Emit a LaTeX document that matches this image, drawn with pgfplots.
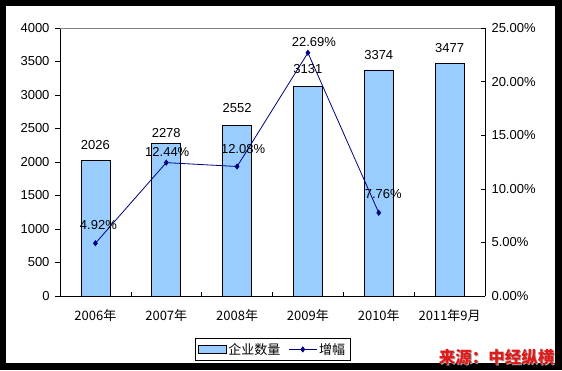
\documentclass[border=0pt]{standalone}
\usepackage{pgfplots}
\pgfplotsset{compat=1.18}
\usepackage{pgfplotstable}
\usepackage{fontspec}
\setmainfont{Liberation Sans}
\newfontfamily\cjk{Noto Sans CJK SC}
\definecolor{barblue}{HTML}{99CCFF}
\definecolor{navy}{HTML}{000080}
\definecolor{srcred}{RGB}{225,25,25}
\newcommand{\fs}{\fontsize{13bp}{15bp}\selectfont}
\pgfplotsset{
 /pgf/number format/1000 sep={},
 linelegend/.style={legend image code/.code={\draw[##1, mark repeat=2, mark phase=2] plot coordinates {(0bp,0bp) (14bp,0bp) (28bp,0bp)};}},
 barlegend/.style={legend image code/.code={\draw[fill=barblue,draw=black,line width=0.6bp] (0bp,-4bp) rectangle (28bp,4bp);}}
}
\pgfplotstableread{
x y dy
0 2026 15
1 2278 10
2 2552 17
3 3131 17
4 3374 15
5 3477 15
}\bars
\pgfplotstableread{
x y dx dy
0 4.92 3 18
1 12.44 1 11
2 12.08 6 17
3 22.69 6 11
4 7.76 4.5 19
}\rate
\begin{document}
\begin{tikzpicture}[x=1bp,y=1bp]
\fill[black] (0,0) rectangle (562,370);
\fill[white] (6,7) rectangle (555,364);
\begin{axis}[
  at={(60bp,74bp)}, anchor=south west,
  scale only axis, width=425bp, height=268bp,
  xmin=-0.5, xmax=5.5, ymin=0, ymax=4000,
  axis x line*=bottom, axis y line*=left,
  xtick={0,...,5},
  xticklabels={2006年,2007年,2008年,2009年,2010年,2011年9月},
  x tick label style={font=\cjk\fs, yshift=-5bp},
  major x tick style={draw=none},
  ytick={0,500,...,4000},
  tick align=outside, major tick length=5bp,
  y tick label style={font=\fs, xshift=-2bp},
  /pgf/number format/assume math mode=true,
  scaled y ticks=false,
  axis line style={black, line width=0.6bp},
  tick style={black, line width=0.6bp},
  clip=false,
  legend style={at={(axis description cs:0.5,-0.158)}, anchor=north,
    draw=black, line width=0.6bp, font=\cjk\fs, legend columns=2,
    inner xsep=3bp, inner ysep=2.5bp,
    /tikz/every even column/.append style={column sep=6bp}},
]
\addplot[ybar, bar width=29bp, fill=barblue, draw=black, line width=0.6bp,
  nodes near coords, point meta=explicit,
  visualization depends on={\thisrow{dy}\as\ddy},
  every node near coord/.append style={font=\fs, anchor=center, yshift=\ddy bp, text=black},
  barlegend]
  table[x=x, y=y, meta=y] {\bars};
\addlegendentry{企业数量}
\addlegendimage{navy, line width=0.8bp, mark=diamond*, mark size=2.5bp, linelegend}
\addlegendentry{增幅}
\draw[gray, line width=0.6bp] (rel axis cs:0,1) -- (rel axis cs:1,1);
\end{axis}
\begin{axis}[
  at={(60bp,74bp)}, anchor=south west,
  scale only axis, width=425bp, height=268bp,
  xmin=-0.5, xmax=5.5, ymin=0, ymax=25,
  axis x line*=bottom, axis y line*=right,
  xtick={-0.5,0.5,...,5.5}, xticklabels={},
  ytick={0,5,...,25},
  yticklabel={\pgfmathprintnumber[fixed,fixed zerofill,precision=2]{\tick}\%},
  tick align=inside, major tick length=4bp,
  y tick label style={font=\fs, xshift=3bp},
  /pgf/number format/assume math mode=true,
  axis line style={black, line width=0.6bp},
  tick style={black, line width=0.6bp},
  clip=false,
]
\addplot[navy, line width=0.8bp, mark=diamond*, mark size=2.5bp,
  nodes near coords={\pgfmathprintnumber[fixed,fixed zerofill,precision=2]{\pgfplotspointmeta}\%},
  point meta=explicit,
  visualization depends on={\thisrow{dx}\as\ddx},
  visualization depends on={\thisrow{dy}\as\ddy},
  every node near coord/.append style={font=\fs, anchor=center, xshift=\ddx bp, yshift=\ddy bp, text=black}]
  table[x=x, y=y, meta=y] {\rate};
\end{axis}
\node[text=gray!70, font=\cjk\bfseries\fontsize{16.5bp}{18bp}\selectfont] at (497.5,11.5) {来源：中经纵横};
\node[text=srcred, font=\cjk\bfseries\fontsize{16.5bp}{18bp}\selectfont] at (496.5,12.5) {来源：中经纵横};
\end{tikzpicture}
\end{document}
